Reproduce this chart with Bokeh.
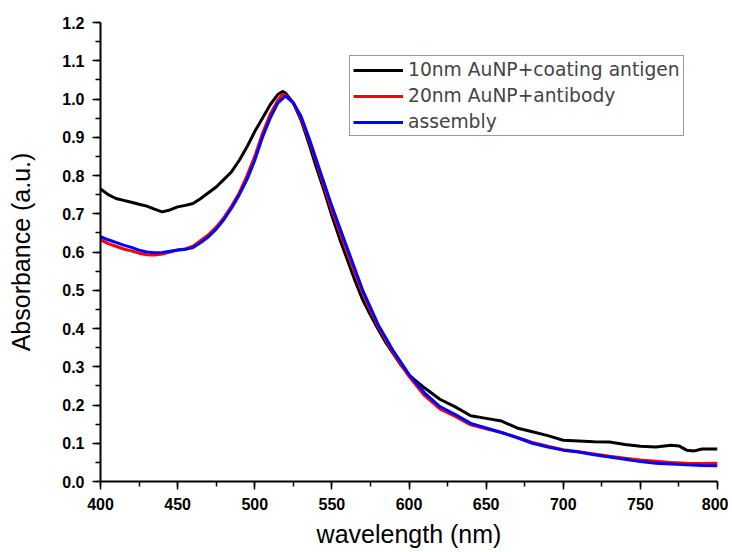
from bokeh.plotting import figure
from bokeh.models import (Range1d, SingleIntervalTicker, NumeralTickFormatter,
                          Legend, LegendItem)
from bokeh.embed import file_html
from bokeh.resources import INLINE

# wavelength grid (nm)
wl_black = [400, 405, 410, 415, 420, 425, 430, 435, 440, 445, 450, 455, 460, 465, 470,
            475, 480, 485, 490, 495, 500, 505, 510, 515, 518, 520, 525, 530, 535, 540,
            545, 550, 555, 560, 565, 570, 575, 580, 585, 590, 595, 600, 610, 620, 630,
            640, 650, 660, 670, 680, 690, 700, 710, 720, 730, 740, 750, 760, 770, 775,
            780, 785, 790, 800]
abs_black = [0.765, 0.75, 0.74, 0.735, 0.73, 0.725, 0.72, 0.712, 0.705, 0.71, 0.718,
             0.722, 0.727, 0.74, 0.755, 0.77, 0.79, 0.81, 0.84, 0.875, 0.915, 0.95,
             0.985, 1.012, 1.02, 1.015, 0.99, 0.945, 0.885, 0.82, 0.76, 0.695, 0.635,
             0.58, 0.525, 0.475, 0.435, 0.398, 0.363, 0.333, 0.303, 0.278, 0.245,
             0.215, 0.195, 0.172, 0.165, 0.158, 0.14, 0.13, 0.12, 0.108, 0.106, 0.104,
             0.103, 0.097, 0.092, 0.09, 0.095, 0.093, 0.082, 0.08, 0.085, 0.085]

wl_red = [400, 405, 410, 415, 420, 425, 430, 435, 440, 445, 450, 455, 460, 465, 470,
          475, 480, 485, 490, 495, 500, 505, 510, 515, 518, 520, 525, 530, 535, 540,
          545, 550, 555, 560, 565, 570, 575, 580, 585, 590, 595, 600, 610, 620, 630,
          640, 650, 660, 670, 680, 690, 700, 710, 720, 730, 740, 750, 760, 770, 780,
          790, 800]
abs_red = [0.632, 0.622, 0.615, 0.608, 0.603, 0.597, 0.593, 0.592, 0.595, 0.6, 0.605,
           0.608, 0.615, 0.63, 0.645, 0.665, 0.69, 0.72, 0.755, 0.8, 0.85, 0.91, 0.96,
           0.997, 1.012, 1.01, 0.99, 0.95, 0.895, 0.835, 0.772, 0.71, 0.655, 0.6,
           0.545, 0.493, 0.448, 0.405, 0.37, 0.335, 0.305, 0.275, 0.225, 0.19, 0.17,
           0.148, 0.138, 0.128, 0.115, 0.102, 0.092, 0.083, 0.078, 0.072, 0.066,
           0.061, 0.056, 0.053, 0.05, 0.048, 0.047, 0.048]

wl_blue = [400, 405, 410, 415, 420, 425, 430, 435, 440, 445, 450, 455, 460, 465, 470,
           475, 480, 485, 490, 495, 500, 505, 510, 515, 520, 525, 530, 535, 540, 545,
           550, 555, 560, 565, 570, 575, 580, 585, 590, 595, 600, 610, 620, 630, 640,
           650, 660, 670, 680, 690, 700, 710, 720, 730, 740, 750, 760, 770, 780, 790,
           800]
abs_blue = [0.64, 0.632, 0.625, 0.618, 0.612, 0.605, 0.6, 0.598, 0.599, 0.602, 0.605,
            0.607, 0.612, 0.625, 0.64, 0.66, 0.685, 0.715, 0.75, 0.79, 0.84, 0.9,
            0.95, 0.99, 1.008, 0.99, 0.955, 0.9, 0.84, 0.78, 0.72, 0.665, 0.61, 0.555,
            0.5, 0.455, 0.41, 0.375, 0.34, 0.31, 0.28, 0.232, 0.196, 0.175, 0.152,
            0.14, 0.128, 0.115, 0.1, 0.09, 0.082, 0.077, 0.07, 0.064, 0.058, 0.052,
            0.048, 0.046, 0.044, 0.042, 0.041]

labels = ["10nm AuNP+coating antigen", "20nm AuNP+antibody", "assembly"]
colors = ["#000000", "#ff0000", "#0000ff"]

W, H = 728, 552
p = figure(width=W, height=H, output_backend="svg", toolbar_location=None,
           x_range=Range1d(400, 800), y_range=Range1d(0, 1.2001),
           min_border_left=100, min_border_right=11, min_border_top=22,
           min_border_bottom=71)
p.outline_line_color = None
p.xgrid.visible = False
p.ygrid.visible = False
p.background_fill_color = "white"
p.border_fill_color = "white"

r1 = p.line(wl_black, abs_black, line_color=colors[0], line_width=3)
r2 = p.line(wl_red, abs_red, line_color=colors[1], line_width=3)
r3 = p.line(wl_blue, abs_blue, line_color=colors[2], line_width=3)

p.xaxis.ticker = SingleIntervalTicker(interval=50, num_minor_ticks=2)
p.yaxis.ticker = SingleIntervalTicker(interval=0.1, num_minor_ticks=2)
p.yaxis.formatter = NumeralTickFormatter(format="0.0")
p.xaxis.formatter = NumeralTickFormatter(format="0")

for ax in (p.xaxis[0], p.yaxis[0]):
    ax.axis_line_width = 2
    ax.axis_line_color = "black"
    ax.major_tick_line_width = 1.5
    ax.minor_tick_line_width = 1.5
    ax.major_tick_line_color = "black"
    ax.minor_tick_line_color = "black"
    ax.major_tick_out = 8
    ax.major_tick_in = 0
    ax.minor_tick_out = 5
    ax.minor_tick_in = 0
    ax.major_label_text_font = "Liberation Sans"
    ax.major_label_text_font_style = "bold"
    ax.major_label_text_font_size = "16px"
    ax.major_label_text_color = "black"
    ax.major_label_standoff = 8
    ax.axis_label_text_font = "Liberation Sans"
    ax.axis_label_text_font_style = "normal"
    ax.axis_label_text_font_size = "25px"
    ax.axis_label_text_color = "black"

p.xaxis.axis_label = "wavelength (nm)"
p.yaxis.axis_label = "Absorbance (a.u.)"
p.xaxis.axis_label_standoff = 7
p.yaxis.axis_label_standoff = 24

legend = Legend(items=[LegendItem(label=labels[0], renderers=[r1]),
                       LegendItem(label=labels[1], renderers=[r2]),
                       LegendItem(label=labels[2], renderers=[r3])],
                location=(249, 345))
legend.glyph_width = 50
legend.glyph_height = 20
legend.label_text_font = "DejaVu Sans"
legend.label_text_font_size = "18.7px"
legend.label_standoff = 5
legend.spacing = 5
legend.padding = 3
legend.margin = 0
legend.border_line_color = "#333333"
legend.border_line_width = 1
legend.background_fill_alpha = 1
legend.label_height = 20
p.add_layout(legend, "center")

open("out.html", "w").write(file_html(p, INLINE))
